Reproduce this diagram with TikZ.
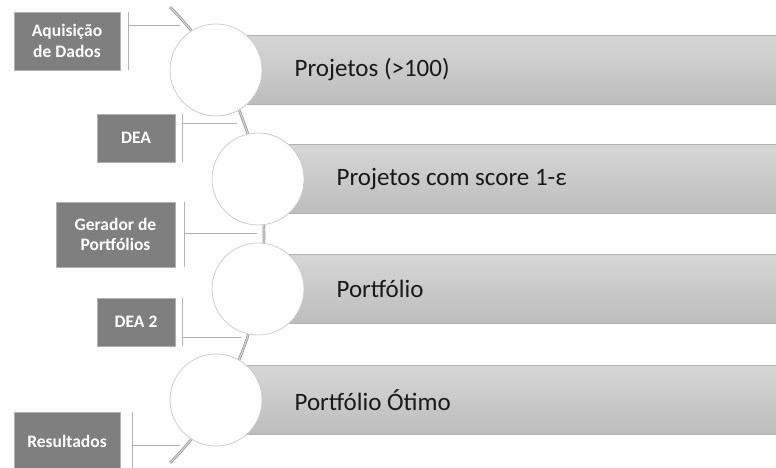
\documentclass[tikz,border=0pt]{standalone}
\usepackage{fontspec}
\setmainfont{Carlito}
\usetikzlibrary{positioning}
\definecolor{barTop}{HTML}{D6D6D6}
\definecolor{barBot}{HTML}{BDBDBD}
\definecolor{tagGray}{HTML}{7F7F7F}
\begin{document}
\begin{tikzpicture}[x=1pt,y=1pt,
    stage/.style={circle, draw=gray!40, line width=0.8pt, fill=white, minimum size=92pt, inner sep=0pt},
    bar/.style={rectangle, top color=barTop, bottom color=barBot, minimum height=68pt, inner sep=0pt, anchor=west},
    bartext/.style={inner sep=0pt, font=\fontsize{25}{30}\selectfont, text=black!90},
    tag/.style={rectangle, fill=tagGray, draw=gray!60, line width=0.4pt, text=white, font=\fontsize{17.5}{20.5}\selectfont\bfseries, align=center, inner sep=0pt},
    edge/.style={draw=gray!60, line width=0.6pt},
    link/.style={draw=gray!60, line width=0.6pt, shorten >=7pt},
    spine/.style={draw=gray!85, double=gray!35, double distance=1.2pt, line width=0.7pt}]
    \useasboundingbox (0,0) rectangle (776,468);

    % Centre of the big arc
    \coordinate (ctr) at (-59.5,233);

    % Stage positions on the arc
    \coordinate (p1) at (216,398);
    \coordinate (p2) at (258,289);
    \coordinate (p3) at (258,179);
    \coordinate (p4) at (216,68);

    % Grey bars
    \node[bar, minimum width=560pt] (b1) at (p1) {};
    \node[bar, minimum width=518pt] (b2) at (p2) {};
    \node[bar, minimum width=518pt] (b3) at (p3) {};
    \node[bar, minimum width=560pt] (b4) at (p4) {};
    \foreach \b in {b1,b2,b3,b4} {
        \draw[edge] (\b.north west) -- (\b.north east);
        \draw[edge] (\b.south west) -- (\b.south east);
    }

    % Spine
    \draw[spine] ([shift={(44.8:323.5)}]ctr) arc[start angle=44.8, end angle=-44.8, radius=323.5];

    % Points on the spine
    \coordinate (s1) at ([shift={(40.47:323.5)}]ctr);
    \coordinate (s2) at ([shift={(20.26:323.5)}]ctr);
    \coordinate (s3) at ([shift={(0.35:323.5)}]ctr);
    \coordinate (s4) at ([shift={(-18.37:323.5)}]ctr);
    \coordinate (s5) at ([shift={(-40.47:323.5)}]ctr);

    % Circles
    \node[stage] (c1) at (p1) {};
    \node[stage] (c2) at (p2) {};
    \node[stage] (c3) at (p3) {};
    \node[stage] (c4) at (p4) {};

    % Bar texts
    \node[bartext, right=32pt of c1] (t1) {Projetos (>100)};
    \node[bartext, right=32pt of c2] (t2) {Projetos com score 1-ε};
    \node[bartext, right=32pt of c3] (t3) {Portfólio};
    \node[bartext, right=32pt of c4] (t4) {Portfólio Ótimo};

    % Step tags
    \node[tag, minimum width=106pt, minimum height=58pt] (aq) at (67,427) {Aquisição\\de Dados};
    \node[tag, minimum width=78pt, minimum height=48pt] (dea) at (136,330) {DEA};
    \node[tag, minimum width=119pt, minimum height=65pt] (ger) at (115.5,233.5) {Gerador de\\Portfólios};
    \node[tag, minimum width=78pt, minimum height=48pt] (dea2) at (136,146) {DEA 2};
    \node[tag, minimum width=106pt, minimum height=58pt] (res) at (67,27) {Resultados};

    % Brackets
    \coordinate (k1) at ([xshift=8pt]aq.east);
    \coordinate (k2) at ([xshift=7pt]dea.east);
    \coordinate (k3) at ([xshift=9pt]ger.east);
    \coordinate (k4) at ([xshift=7pt]dea2.east);
    \coordinate (k5) at ([xshift=12pt]res.east);
    \draw[edge] ([xshift=8pt]aq.north east) -- ([xshift=8pt]aq.south east);
    \draw[edge] ([xshift=7pt]dea.north east) -- ([xshift=7pt]dea.south east);
    \draw[edge] ([xshift=9pt]ger.north east) -- ([xshift=9pt]ger.south east);
    \draw[edge] ([xshift=7pt]dea2.north east) -- ([xshift=7pt]dea2.south east);
    \draw[edge] ([xshift=12pt]res.north east) -- ([xshift=12pt]res.south east);

    % Links to the spine
    \draw[link] (s1 -| k1) -- (s1);
    \draw[link] (s2 -| k2) -- (s2);
    \draw[link] (s3 -| k3) -- (s3);
    \draw[link] (s4 -| k4) -- (s4);
    \draw[link] (s5 -| k5) -- (s5);
\end{tikzpicture}
\end{document}
